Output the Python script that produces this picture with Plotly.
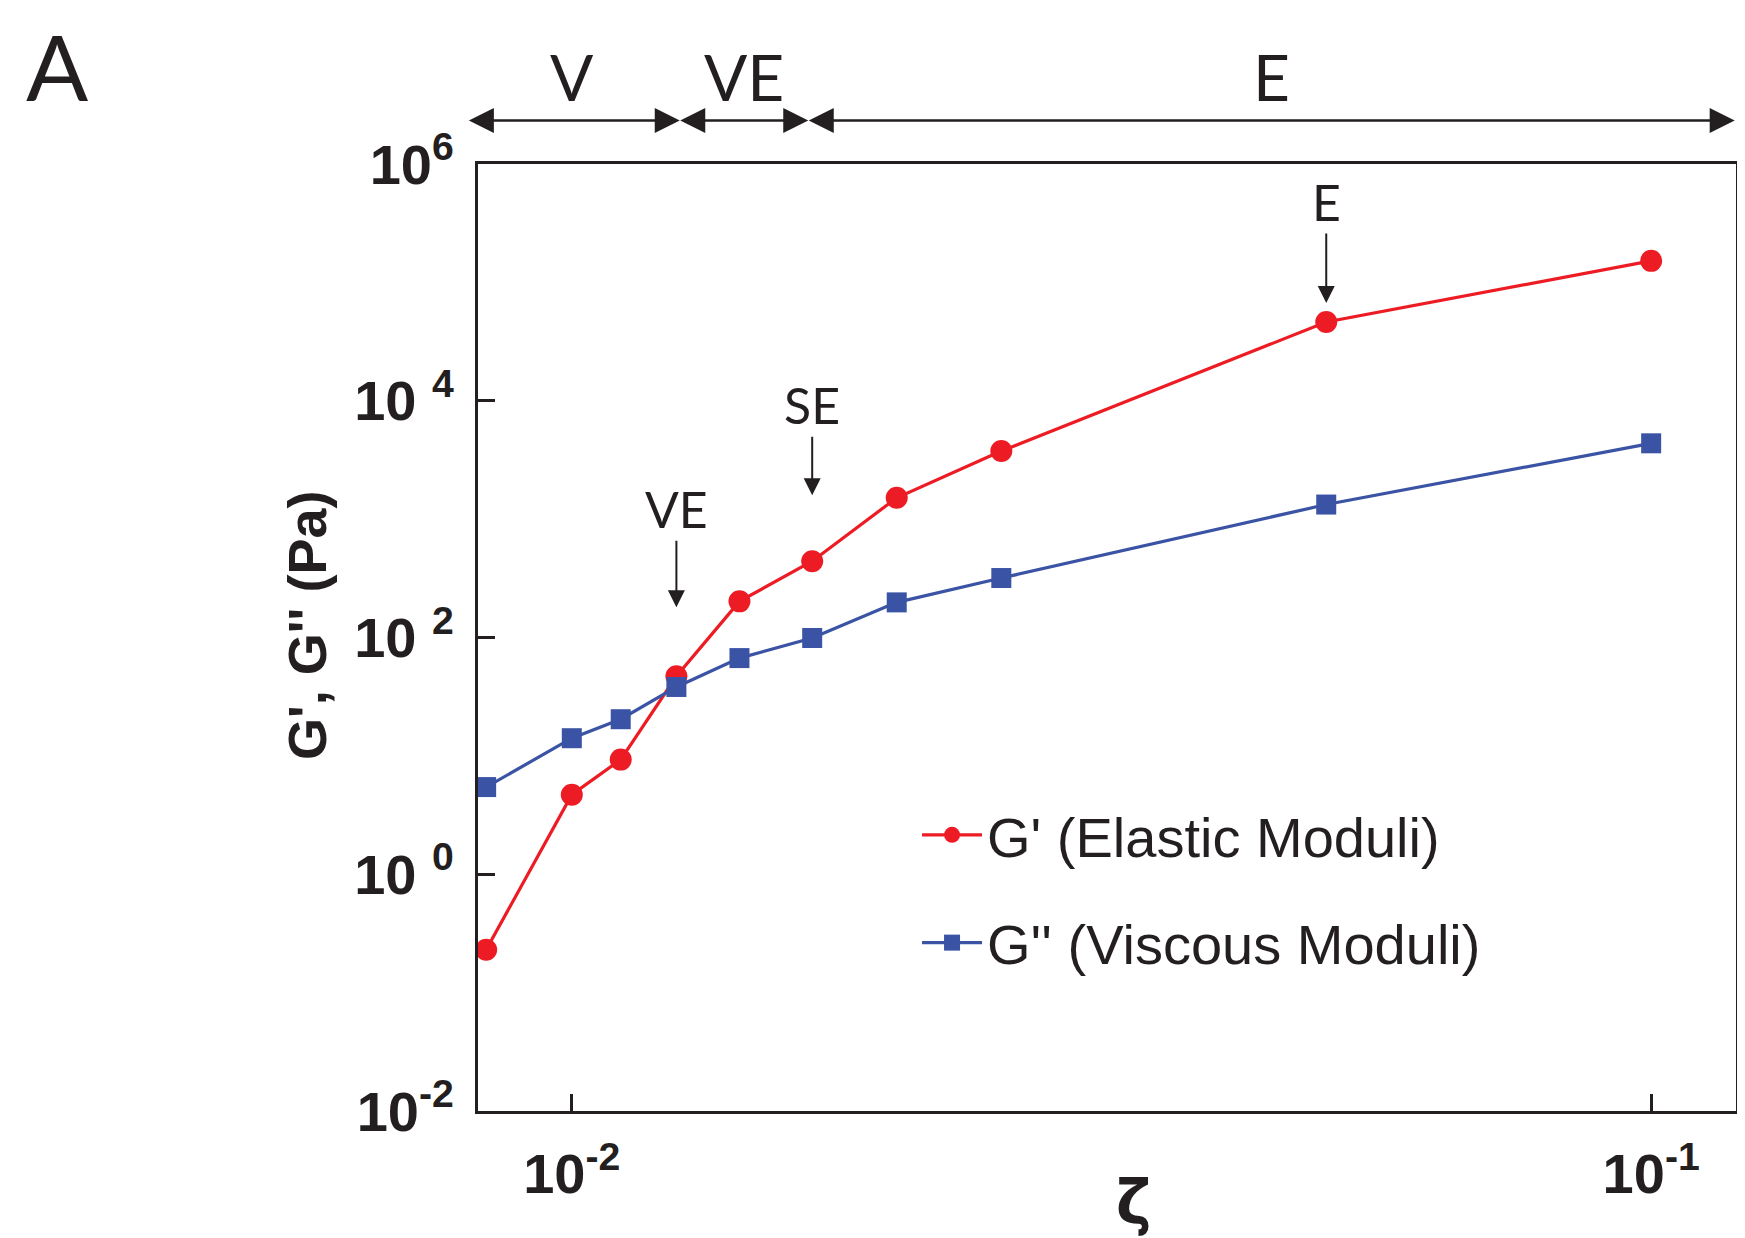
import plotly.graph_objects as go
import math

# ---- data ----
zeta = [0.00833, 0.0100, 0.0111, 0.0125, 0.0143, 0.0167, 0.0200, 0.0250, 0.0500, 0.1000]
g_elastic = [0.23, 4.7, 9.3, 47, 202, 441, 1514, 3757, 46250, 152000]
g_viscous = [5.45, 14.1, 20.4, 38.2, 67, 99, 198, 318, 1328, 4370]

x_tickvals = [0.01, 0.1]
x_ticktext = ["10<sup>-2</sup>", "10<sup>-1</sup>"]
y_tickvals = [1e-2, 1e0, 1e2, 1e4, 1e6]
y_ticktext = ["10<sup>-2</sup>", "10\u00a0<sup>0</sup>", "10\u00a0<sup>2</sup>",
              "10\u00a0<sup>4</sup>", "10<sup>6</sup>"]

# regime bands along the top (in zeta units)
region_bounds = [0.00802, 0.01259, 0.01656, 0.1195]
region_labels = ["V", "VE", "E"]
region_label_x = [0.0100, 0.01445, 0.0445]

# point annotations: (label, index of G' point, text offset px, standoff px)
point_notes = [("VE", 3, -167, 69), ("SE", 5, -156, 66), ("E", 8, -120, 19)]

RED = "#ED1C24"
BLUE = "#3A53A4"
BLACK = "#231F20"

fig = go.Figure()
fig.add_trace(go.Scatter(
    x=zeta, y=g_elastic, mode="lines+markers", name="G' (Elastic Moduli)",
    line=dict(color=RED, width=3.2), marker=dict(symbol="circle", size=22, color=RED),
    legendgroup="a"))
fig.add_trace(go.Scatter(
    x=zeta, y=g_viscous, mode="lines+markers", name="G'' (Viscous Moduli)",
    line=dict(color=BLUE, width=3.2), marker=dict(symbol="square", size=20, color=BLUE),
    legendgroup="b"))

annos = []
# top regime arrows (double headed)
for a, b in zip(region_bounds[:-1], region_bounds[1:]):
    annos.append(dict(x=math.log10(b), y=1.046, xref="x", yref="paper",
                      ax=math.log10(a), ay=0, axref="x", ayref="pixel",
                      text=" ", font=dict(size=1), borderpad=0,
                      showarrow=True, arrowhead=2, startarrowhead=2,
                      arrowside="end+start",
                      arrowsize=2.0, startarrowsize=2.0, arrowwidth=2.5,
                      arrowcolor=BLACK))
for lab, lx in zip(region_labels, region_label_x):
    annos.append(dict(x=math.log10(lx), y=1.0925, xref="x", yref="paper",
                      xanchor="center", yanchor="middle",
                      text=lab, showarrow=False,
                      font=dict(family="Lato", size=64, color=BLACK)))
# point annotations
for lab, idx, off, so in point_notes:
    annos.append(dict(x=math.log10(zeta[idx]), y=math.log10(g_elastic[idx]),
                      xref="x", yref="y", text=lab, showarrow=True,
                      ax=0, ay=off, standoff=so, arrowhead=2, arrowsize=1.7,
                      arrowwidth=2, arrowcolor=BLACK,
                      font=dict(family="Lato", size=50, color=BLACK)))
# panel letter
annos.append(dict(x=-0.334, y=1.104, xref="paper", yref="paper", text="A",
                  xanchor="center", yanchor="middle",
                  showarrow=False, font=dict(family="Lato", size=92, color=BLACK)))
# axis titles
annos.append(dict(x=-0.136, y=0.513, xref="paper", yref="paper",
                  xanchor="center", yanchor="middle",
                  text="G', G'' (Pa)", textangle=-90, showarrow=False,
                  font=dict(family="Liberation Sans", size=54, color=BLACK, weight="bold")))
annos.append(dict(x=0.521, y=-0.096, xref="paper", yref="paper", text="ζ",
                  xanchor="center", yanchor="middle",
                  showarrow=False,
                  font=dict(family="DejaVu Sans", size=60, color=BLACK, weight="bold")))

fig.update_layout(
    width=1737, height=1230,
    margin=dict(l=470, r=6, t=156, b=127),
    plot_bgcolor="white", paper_bgcolor="white",
    annotations=annos,
    showlegend=True,
    legend=dict(x=0.349, y=0.2345, xanchor="left", yanchor="middle",
                bgcolor="rgba(0,0,0,0)", tracegroupgap=32, itemwidth=60,
                font=dict(family="Liberation Sans", size=56, color=BLACK)),
)
fig.update_xaxes(type="log", range=[-2.0869, -0.9214],
                 tickvals=x_tickvals, ticktext=x_ticktext,
                 ticks="inside", ticklen=17, tickwidth=3, tickcolor=BLACK,
                 showline=True, linewidth=3, linecolor=BLACK, mirror=True,
                 showgrid=False, zeroline=False, ticklabelstandoff=12,
                 tickfont=dict(family="Liberation Sans", size=56, color=BLACK, weight="bold"))
fig.update_yaxes(type="log", range=[-2, 6],
                 tickvals=y_tickvals, ticktext=y_ticktext,
                 ticks="inside", ticklen=17, tickwidth=3, tickcolor=BLACK,
                 showline=True, linewidth=3, linecolor=BLACK, mirror=True,
                 showgrid=False, zeroline=False, ticklabelstandoff=10,
                 tickfont=dict(family="Liberation Sans", size=56, color=BLACK, weight="bold"))

fig.write_html("out.html")
